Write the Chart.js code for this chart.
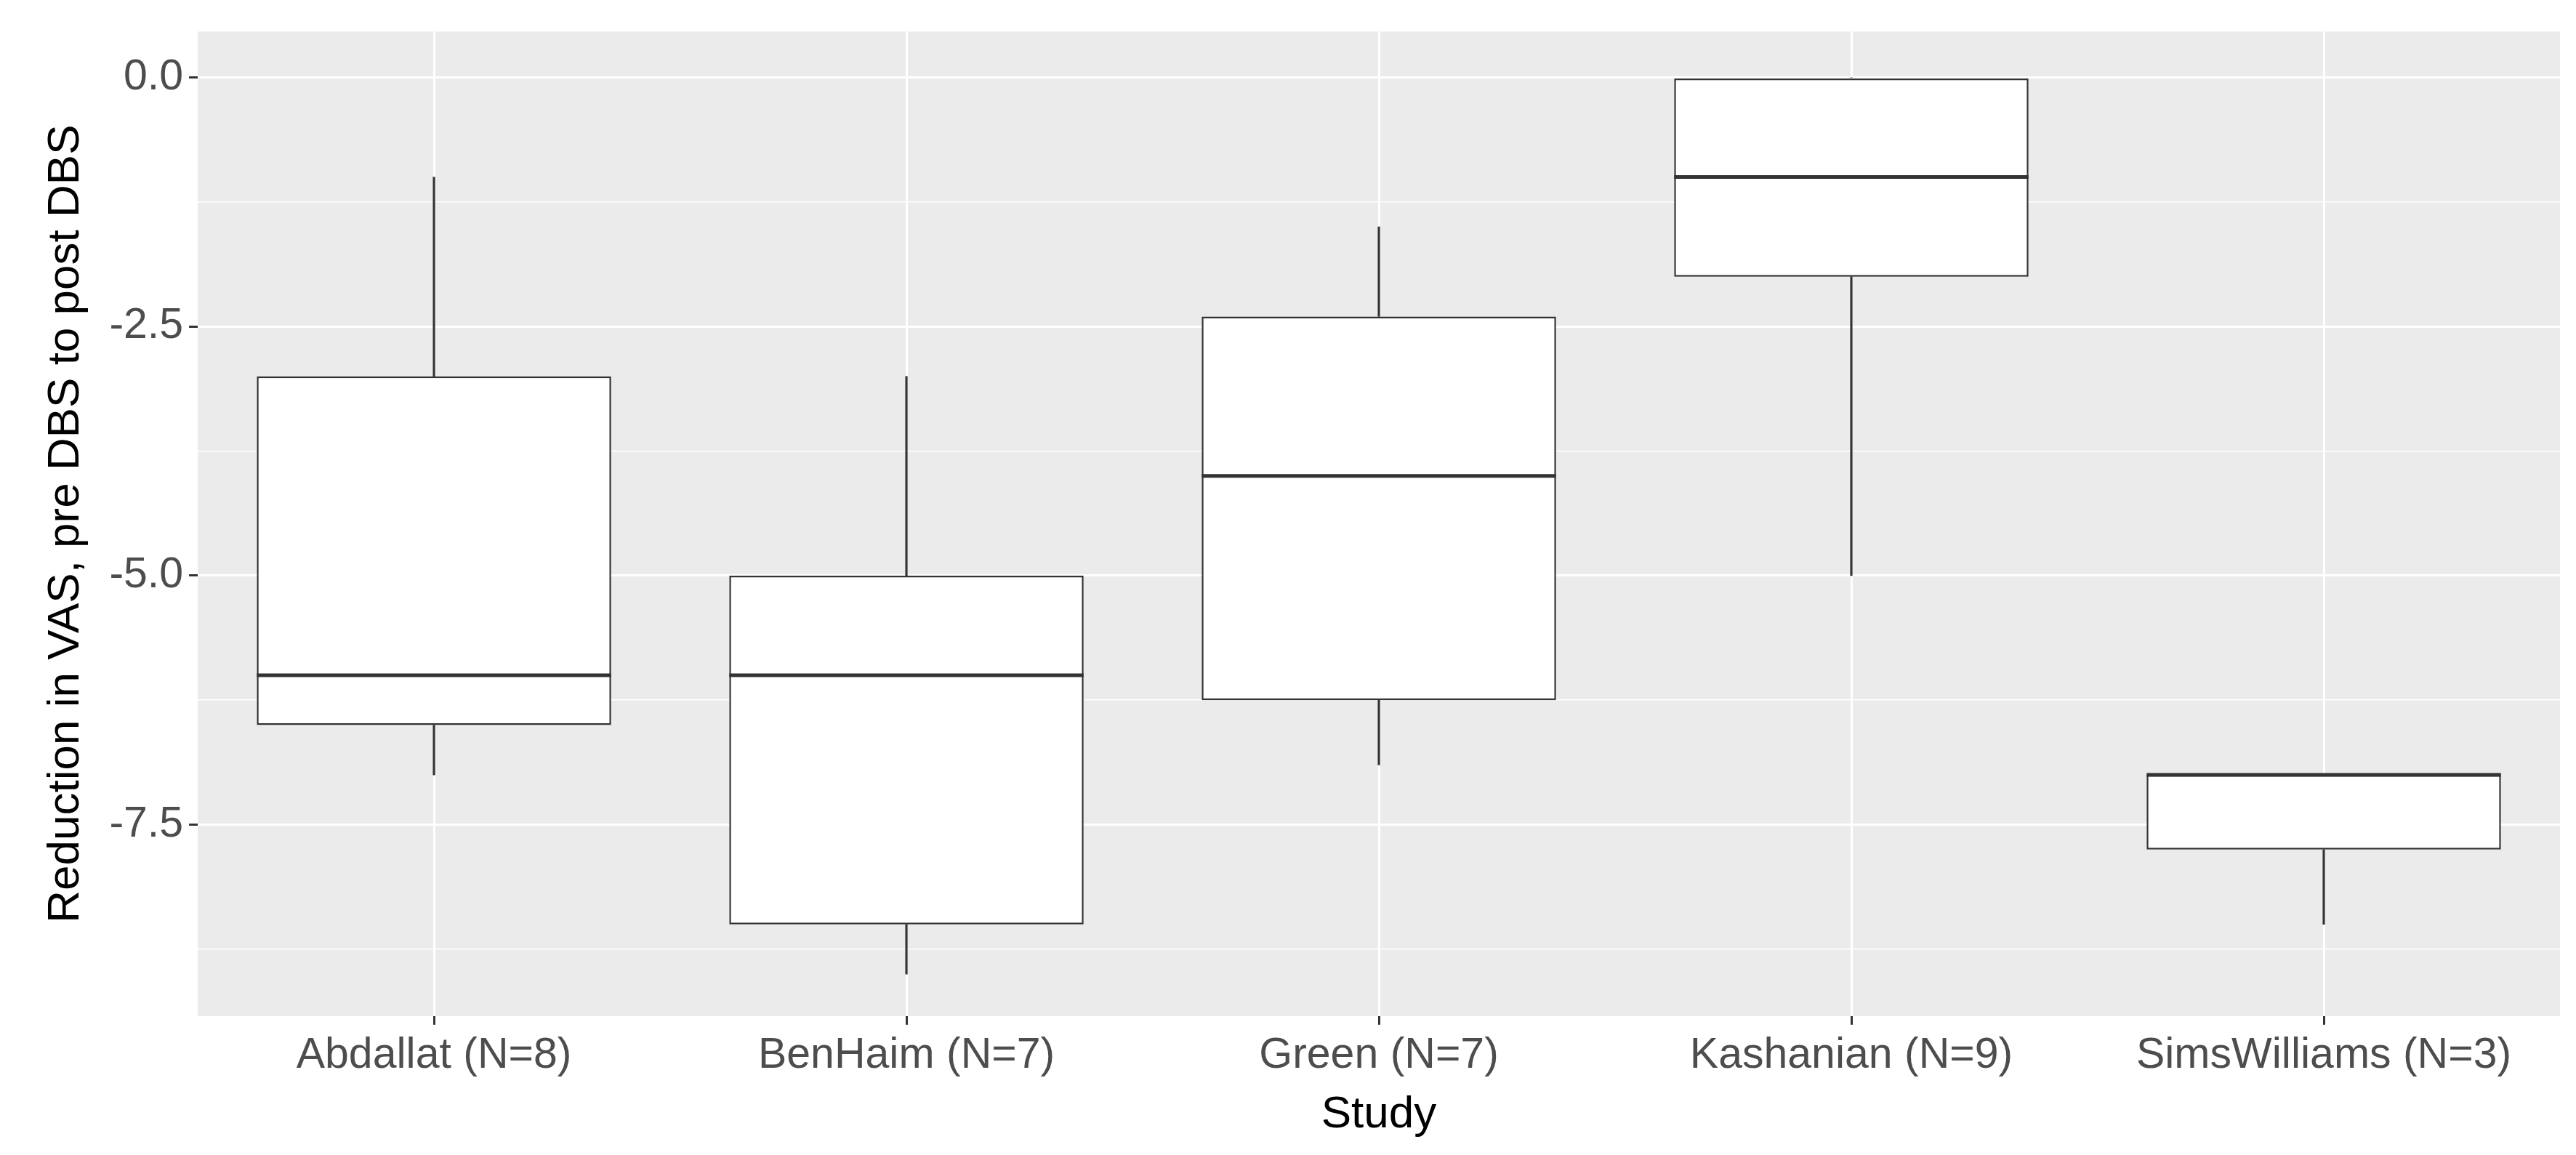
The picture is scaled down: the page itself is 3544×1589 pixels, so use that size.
<!DOCTYPE html>
<html lang="en">
<head>
<meta charset="UTF-8">
<script src="https://cdn.jsdelivr.net/npm/chart.js"></script>
<style>
  html, body { margin: 0; padding: 0; background: #fff; }
  #wrap { width: 3544px; height: 1589px; }
</style>
</head>
<body>
<div id="wrap"><canvas id="grafico"></canvas></div>
<script>
// dados
const estudos = ['Abdallat (N=8)', 'BenHaim (N=7)', 'Green (N=7)', 'Kashanian (N=9)', 'SimsWilliams (N=3)']
const minimos = [-7, -9, -6.9, -5, -8.5]
const q1 = [-6.5, -8.5, -6.25, -2, -7.75]
const medianas = [-6, -6, -4, -1, -7]
const q3 = [-3, -5, -2.4, 0, -7]
const maximos = [-1, -3, -1.5, 0, -7]
const yTicks = [-8.75, -7.5, -6.25, -5, -3.75, -2.5, -1.25, 0]

const fundo = {
    id: 'fundo',
    beforeDraw(chart) {
        const a = chart.chartArea
        chart.ctx.save()
        chart.ctx.fillStyle = '#EBEBEB'
        chart.ctx.fillRect(a.left, a.top, a.right - a.left, a.bottom - a.top)
        chart.ctx.restore()
    }
}

// linha da mediana, posicionada pelas escalas
const mediana = {
    id: 'mediana',
    afterDatasetsDraw(chart) {
        const meta = chart.getDatasetMeta(2)
        const y = chart.scales.y
        const ctx = chart.ctx
        ctx.save()
        ctx.strokeStyle = '#333333'
        ctx.lineWidth = 5
        meta.data.forEach(function (bar, i) {
            const py = y.getPixelForValue(medianas[i])
            ctx.beginPath()
            ctx.moveTo(bar.x - bar.width / 2, py)
            ctx.lineTo(bar.x + bar.width / 2, py)
            ctx.stroke()
        })
        ctx.restore()
    }
}

new Chart(document.getElementById('grafico'), {
    type: 'bar',
    data: {
        labels: estudos,
        datasets: [
            {
                data: estudos.map((e, i) => [minimos[i], q1[i]]),
                backgroundColor: '#333333', barThickness: 2.5, grouped: false
            },
            {
                data: estudos.map((e, i) => [q3[i], maximos[i]]),
                backgroundColor: '#333333', barThickness: 2.5, grouped: false
            },
            {
                data: estudos.map((e, i) => [q1[i], q3[i]]),
                backgroundColor: '#ffffff', borderColor: '#333333', borderWidth: 2.5,
                borderSkipped: false, barPercentage: 0.75, categoryPercentage: 1, grouped: false
            }
        ]
    },
    options: {
        responsive: true,
        maintainAspectRatio: false,
        animation: false,
        layout: { padding: { left: 50, right: 22, top: 34, bottom: 14 } },
        plugins: { legend: { display: false }, tooltip: { enabled: false } },
        scales: {
            x: {
                offset: true,
                grid: { color: '#ffffff', lineWidth: 3, offset: false, tickColor: '#333333', tickLength: 12 },
                border: { display: false },
                ticks: { color: '#4D4D4D', font: { family: 'Liberation Sans', size: 59 }, padding: 8 },
                title: { display: true, text: 'Study', color: '#000', font: { family: 'Liberation Sans', size: 62 }, padding: { top: 0 } }
            },
            y: {
                min: -9.42,
                max: 0.46,
                afterBuildTicks(scale) { scale.ticks = yTicks.map(v => ({ value: v })) },
                grid: {
                    color: '#ffffff',
                    lineWidth: ctx => (ctx.tick && ctx.tick.value % 2.5 === 0) ? 3 : 1.5,
                    tickColor: ctx => (ctx.tick && ctx.tick.value % 2.5 === 0) ? '#333333' : 'rgba(0,0,0,0)',
                    tickLength: 12
                },
                border: { display: false },
                ticks: {
                    color: '#4D4D4D', font: { family: 'Liberation Sans', size: 59 }, padding: 8,
                    callback: v => (v % 2.5 === 0) ? v.toFixed(1) : ''
                },
                title: { display: true, text: 'Reduction in VAS, pre DBS to post DBS', color: '#000', font: { family: 'Liberation Sans', size: 62 }, padding: { bottom: 14 } }
            }
        }
    },
    plugins: [fundo, mediana]
})
</script>
</body>
</html>
